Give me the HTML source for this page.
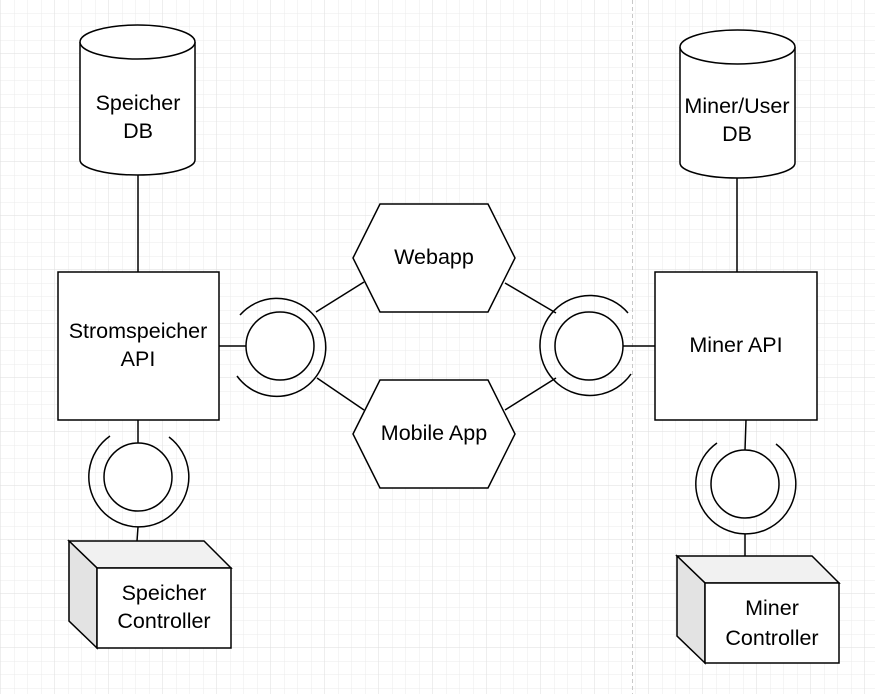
<!DOCTYPE html>
<html><head><meta charset="utf-8"><style>
html,body{margin:0;padding:0;background:#fff;}
svg{display:block;}
text{font-family:"Liberation Sans",Arial,sans-serif;font-size:21.5px;fill:#000;text-anchor:middle;}
</style></head><body>
<svg width="875" height="694" viewBox="0 0 875 694" xmlns="http://www.w3.org/2000/svg">
<defs>
<pattern id="g" x="1" y="0" width="13.5" height="13.5" patternUnits="userSpaceOnUse">
<path d="M13.5 0V13.5M0 13.5H13.5" stroke="#ebebeb" stroke-width="1" fill="none"/>
</pattern>
<pattern id="G" x="1" y="0" width="54" height="54" patternUnits="userSpaceOnUse">
<path d="M54 0V54M0 54H54" stroke="#dedede" stroke-width="1" fill="none"/>
</pattern>
</defs>
<rect width="875" height="694" fill="url(#g)"/>
<rect width="875" height="694" fill="url(#G)"/>
<line x1="632.5" y1="0" x2="632.5" y2="694" stroke="#c8c8c8" stroke-dasharray="4,3"/>
<g stroke="#000" stroke-width="1.5" fill="#fff">
<line x1="138" y1="175" x2="138" y2="272"/>
<line x1="737" y1="178" x2="737" y2="272"/>
<line x1="219" y1="346" x2="246" y2="346"/>
<line x1="623" y1="346" x2="655" y2="346"/>
<line x1="316" y1="312" x2="364" y2="282"/>
<line x1="317" y1="378" x2="364" y2="410"/>
<line x1="505" y1="283" x2="556" y2="313"/>
<line x1="505" y1="410" x2="556" y2="378"/>
<line x1="138" y1="420" x2="138" y2="443"/>
<line x1="138" y1="527" x2="137" y2="541"/>
<line x1="746" y1="420" x2="745" y2="450"/>
<line x1="745" y1="534" x2="745" y2="556"/>
<path d="M80 42 V160 A57.5 15 0 0 0 195 160 V42"/>
<ellipse cx="137.5" cy="42" rx="57.5" ry="17"/>
<path d="M680 47 V163 A57.5 15 0 0 0 795 163 V47"/>
<ellipse cx="737.5" cy="47" rx="57.5" ry="17"/>
<rect x="58" y="272" width="161" height="148"/>
<rect x="655" y="272" width="162" height="148"/>
<polygon points="353,258 380,204 488,204 515,258 488,312 380,312"/>
<polygon points="353,434 380,380 488,380 515,434 488,488 380,488"/>
<circle cx="280" cy="346" r="34"/>
<path d="M240 315 A49 49 0 1 1 237 376" fill="none"/>
<circle cx="589" cy="346" r="34"/>
<path d="M628 313 A50 50 0 1 0 631 374" fill="none"/>
<circle cx="138" cy="477" r="34"/>
<path d="M110 436 A50 50 0 1 0 169 437" fill="none"/>
<circle cx="745" cy="484" r="34"/>
<path d="M717 443 A50 50 0 1 0 776 444" fill="none"/>
<polygon points="69,541 204,541 231,568 97,568" fill="#f1f1f1"/>
<polygon points="69,541 97,568 97,648 69,621" fill="#e3e3e3"/>
<rect x="97" y="568" width="134" height="80"/>
<polygon points="677,556 812,556 839,583 705,583" fill="#f1f1f1"/>
<polygon points="677,556 705,583 705,663 677,636" fill="#e3e3e3"/>
<rect x="705" y="583" width="134" height="80"/>
</g>
<text x="138" y="110">Speicher</text><text x="138" y="138">DB</text>
<text x="737" y="113">Miner/User</text><text x="737" y="141">DB</text>
<text x="138" y="338">Stromspeicher</text><text x="138" y="366">API</text>
<text x="736" y="352">Miner API</text>
<text x="434" y="264">Webapp</text>
<text x="434" y="440">Mobile App</text>
<text x="164" y="600">Speicher</text><text x="164" y="628">Controller</text>
<text x="772" y="615">Miner</text><text x="772" y="645">Controller</text>
</svg>
</body></html>
